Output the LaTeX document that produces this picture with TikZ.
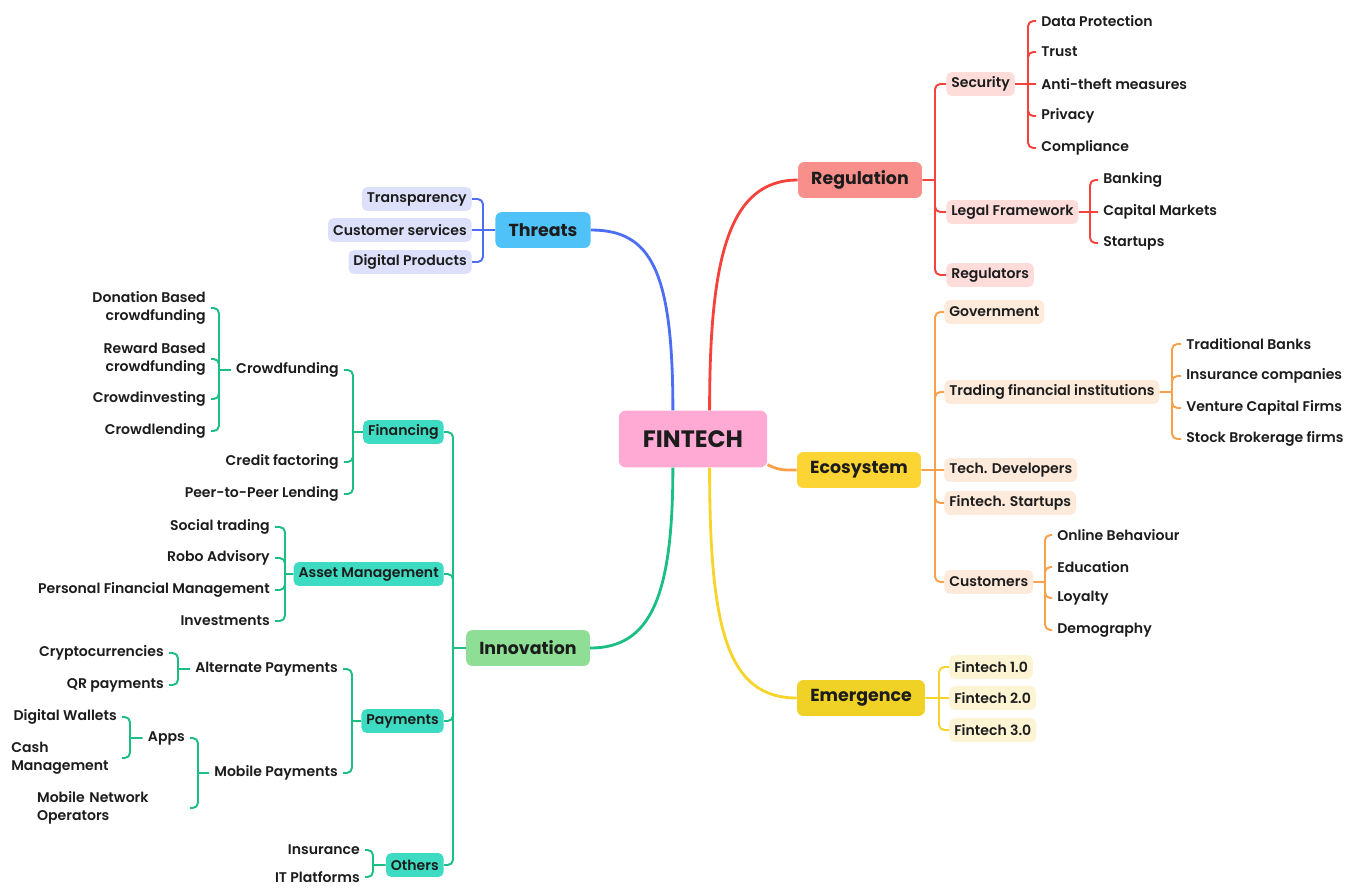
\documentclass[tikz,border=0pt]{standalone}
\usepackage{fontspec}
\setmainfont{Poppins SemiBold}[BoldFont={Poppins Bold}]
\usepackage{tikz}
\usetikzlibrary{positioning,calc}

\definecolor{rootfill}{HTML}{FFAAD4}
\definecolor{regline}{HTML}{F5423B}
\definecolor{regfill}{HTML}{F98F8A}
\definecolor{regsub}{HTML}{FDDCDA}
\definecolor{thrline}{HTML}{4C6EF5}
\definecolor{thrfill}{HTML}{4FC3F7}
\definecolor{thrsub}{HTML}{DCE0FA}
\definecolor{ecoline}{HTML}{F9A04B}
\definecolor{ecofill}{HTML}{FCD434}
\definecolor{ecosub}{HTML}{FDEADB}
\definecolor{emeline}{HTML}{F7D42A}
\definecolor{emefill}{HTML}{F0D126}
\definecolor{emesub}{HTML}{FCF4D3}
\definecolor{innline}{HTML}{1BBF83}
\definecolor{innfill}{HTML}{8EDF95}
\definecolor{innsub}{HTML}{3DDBC1}
\definecolor{txt}{HTML}{1C1C1C}

\begin{document}
\begin{tikzpicture}[
    x=0.02cm, y=-0.02cm,
    root/.style={fill=rootfill, rounded corners=4pt, minimum width=84.5pt, minimum height=32.3pt, text=txt, font=\fontsize{13.5}{16}\selectfont\bfseries},
    topic/.style={rounded corners=3.5pt, minimum height=20.4pt, inner xsep=7.5pt, text=txt, font=\fontsize{9.9}{12}\selectfont\bfseries},
    sub/.style={rounded corners=3pt, minimum height=13.6pt, inner xsep=2.8pt, inner ysep=1pt, text=txt, font=\fontsize{8}{10.2}\selectfont},
    leaf/.style={inner xsep=2.8pt, inner ysep=1pt, text=txt, font=\fontsize{8}{10.2}\selectfont},
    trunk/.style={line width=1.6pt},
    branch/.style={line width=1.1pt, rounded corners=3pt},
]
  \fill[white] (0,0) rectangle (1346,887);
  \useasboundingbox (0,0) rectangle (1346,887);

  \node[root] (fintech) at (693,439) {FINTECH};

  % Regulation
  \node[topic, fill=regfill] (reg) at (860,180) {Regulation};
  \coordinate (regbar) at (935,180);
  \node[sub, fill=regsub, anchor=west] (sec) at (946,84) {Security};
  \node[sub, fill=regsub, anchor=west] (legal) at (946,212) {Legal Framework};
  \node[sub, fill=regsub, anchor=west] (regs) at (946,275) {Regulators};
  \coordinate (secbar) at (1028,84);
  \node[leaf, anchor=west] (sec1) at (1036,21) {Data Protection};
  \node[leaf, anchor=west] (sec2) at (1036,52) {Trust};
  \node[leaf, anchor=west] (sec3) at (1036,84) {Anti-theft measures};
  \node[leaf, anchor=west] (sec4) at (1036,116) {Privacy};
  \node[leaf, anchor=west] (sec5) at (1036,148) {Compliance};
  \coordinate (legbar) at (1090,212);
  \node[leaf, anchor=west] (leg1) at (1098,180) {Banking};
  \node[leaf, anchor=west] (leg2) at (1098,212) {Capital Markets};
  \node[leaf, anchor=west] (leg3) at (1098,243) {Startups};

  % Threats
  \node[topic, fill=thrfill] (thr) at (543,230) {Threats};
  \coordinate (thrbar) at (483,230);
  \node[sub, fill=thrsub, anchor=east] (thr1) at (472,199) {Transparency};
  \node[sub, fill=thrsub, anchor=east] (thr2) at (472,230) {Customer services};
  \node[sub, fill=thrsub, anchor=east] (thr3) at (472,262) {Digital Products};

  % Ecosystem
  \node[topic, fill=ecofill] (eco) at (859,470) {Ecosystem};
  \coordinate (ecobar) at (935,470);
  \node[sub, fill=ecosub, anchor=west] (gov) at (944,312) {Government};
  \node[sub, fill=ecosub, anchor=west] (trad) at (944,392) {Trading financial institutions};
  \node[sub, fill=ecosub, anchor=west] (dev) at (944,470) {Tech. Developers};
  \node[sub, fill=ecosub, anchor=west] (start) at (944,503) {Fintech. Startups};
  \node[sub, fill=ecosub, anchor=west] (cust) at (944,582) {Customers};
  \coordinate (tradbar) at (1172,392);
  \node[leaf, anchor=west] (trad1) at (1181,344) {Traditional Banks};
  \node[leaf, anchor=west] (trad2) at (1181,376) {Insurance companies};
  \node[leaf, anchor=west] (trad3) at (1181,408) {Venture Capital Firms};
  \node[leaf, anchor=west] (trad4) at (1181,439) {Stock Brokerage firms};
  \coordinate (custbar) at (1045,582);
  \node[leaf, anchor=west] (cust1) at (1052,535) {Online Behaviour};
  \node[leaf, anchor=west] (cust2) at (1052,567) {Education};
  \node[leaf, anchor=west] (cust3) at (1052,598) {Loyalty};
  \node[leaf, anchor=west] (cust4) at (1052,630) {Demography};

  % Emergence
  \node[topic, fill=emefill] (eme) at (861,698) {Emergence};
  \coordinate (emebar) at (939,698);
  \node[sub, fill=emesub, anchor=west] (f1) at (949,667) {Fintech 1.0};
  \node[sub, fill=emesub, anchor=west] (f2) at (949,698) {Fintech 2.0};
  \node[sub, fill=emesub, anchor=west] (f3) at (949,730) {Fintech 3.0};

  % Innovation
  \node[topic, fill=innfill] (inn) at (528,648) {Innovation};
  \coordinate (innbar) at (453,648);
  \node[sub, fill=innsub, anchor=east] (fin) at (444,432) {Financing};
  \node[sub, fill=innsub, anchor=east] (asset) at (444,574) {Asset Management};
  \node[sub, fill=innsub, anchor=east] (pay) at (444,721) {Payments};
  \node[sub, fill=innsub, anchor=east] (oth) at (444,865) {Others};

  \coordinate (finbar) at (353,432);
  \node[leaf, anchor=east] (crowd) at (344,370) {Crowdfunding};
  \node[leaf, anchor=east] (fin2) at (344,462) {Credit factoring};
  \node[leaf, anchor=east] (fin3) at (344,494) {Peer-to-Peer Lending};
  \coordinate (crowdbar) at (219,370);
  \node[leaf, anchor=east, align=right] (crowd1) at (211,308) {Donation Based\\crowdfunding};
  \node[leaf, anchor=east, align=right] (crowd2) at (211,359) {Reward Based\\crowdfunding};
  \node[leaf, anchor=east] (crowd3) at (211,399) {Crowdinvesting};
  \node[leaf, anchor=east] (crowd4) at (211,431) {Crowdlending};

  \coordinate (assetbar) at (285,574);
  \node[leaf, anchor=east] (am1) at (275,527) {Social trading};
  \node[leaf, anchor=east] (am2) at (275,558) {Robo Advisory};
  \node[leaf, anchor=east] (am3) at (275,590) {Personal Financial Management};
  \node[leaf, anchor=east] (am4) at (275,621) {Investments};

  \coordinate (paybar) at (352,721);
  \node[leaf, anchor=east] (alt) at (343,669) {Alternate Payments};
  \node[leaf, anchor=east] (mob) at (343,773) {Mobile Payments};
  \coordinate (altbar) at (178,669);
  \node[leaf, anchor=east] (alt1) at (169,653) {Cryptocurrencies};
  \node[leaf, anchor=east] (alt2) at (169,685) {QR payments};
  \coordinate (mobbar) at (198,773);
  \node[leaf, anchor=east] (apps) at (190,738) {Apps};
  \node[leaf, anchor=east, text width=84pt, align=left] (mno) at (190,808) {Mobile Network\\Operators};
  \coordinate (appsbar) at (130,738);
  \node[leaf, anchor=east] (app1) at (122,717) {Digital Wallets};
  \node[leaf, anchor=east, text width=60pt, align=left] (app2) at (122,758) {Cash\\Management};

  \coordinate (othbar) at (373,865);
  \node[leaf, anchor=east] (oth1) at (365,850) {Insurance};
  \node[leaf, anchor=east] (oth2) at (365,877) {IT Platforms};

  % main branches
  \draw[trunk, regline] (fintech.60) .. controls +(0,-150) and +(-70,0) .. (reg.west);
  \draw[trunk, thrline] (fintech.125) .. controls +(0,-140) and +(60,0) .. (thr.east);
  \draw[trunk, ecoline] (fintech.-19) .. controls +(12,6) and +(-12,0) .. (eco.west);
  \draw[trunk, emeline] (fintech.-60) .. controls +(0,160) and +(-70,0) .. (eme.west);
  \draw[trunk, innline] (fintech.-125) .. controls +(0,130) and +(60,0) .. (inn.east);

  % brackets
  \draw[branch, regline] (reg.east) -- (regbar) (regbar) |- (sec.west) (regbar) |- (legal.west) (regbar) |- (regs.west);
  \draw[branch, regline] (sec.east) -- (secbar) (secbar) |- (sec1.west) (secbar) |- (sec2.west) (secbar) -- (sec3.west) (secbar) |- (sec4.west) (secbar) |- (sec5.west);
  \draw[branch, regline] (legal.east) -- (legbar) (legbar) |- (leg1.west) (legbar) -- (leg2.west) (legbar) |- (leg3.west);

  \draw[branch, thrline] (thr.west) -- (thrbar) (thrbar) |- (thr1.east) (thrbar) -- (thr2.east) (thrbar) |- (thr3.east);

  \draw[branch, ecoline] (eco.east) -- (ecobar) (ecobar) |- (gov.west) (ecobar) |- (trad.west) (ecobar) -- (dev.west) (ecobar) |- (start.west) (ecobar) |- (cust.west);
  \draw[branch, ecoline] (trad.east) -- (tradbar) (tradbar) |- (trad1.west) (tradbar) |- (trad2.west) (tradbar) |- (trad3.west) (tradbar) |- (trad4.west);
  \draw[branch, ecoline] (cust.east) -- (custbar) (custbar) |- (cust1.west) (custbar) |- (cust2.west) (custbar) |- (cust3.west) (custbar) |- (cust4.west);

  \draw[branch, emeline] (eme.east) -- (emebar) (emebar) |- (f1.west) (emebar) -- (f2.west) (emebar) |- (f3.west);

  \draw[branch, innline] (inn.west) -- (innbar) (innbar) |- (fin.east) (innbar) |- (asset.east) (innbar) |- (pay.east) (innbar) |- (oth.east);
  \draw[branch, innline] (fin.west) -- (finbar) (finbar) |- (crowd.east) (finbar) |- (fin2.east) (finbar) |- (fin3.east);
  \draw[branch, innline] (crowd.west) -- (crowdbar) (crowdbar) |- (crowd1.east) (crowdbar) |- (crowd2.east) (crowdbar) |- (crowd3.east) (crowdbar) |- (crowd4.east);
  \draw[branch, innline] (asset.west) -- (assetbar) (assetbar) |- (am1.east) (assetbar) |- (am2.east) (assetbar) |- (am3.east) (assetbar) |- (am4.east);
  \draw[branch, innline] (pay.west) -- (paybar) (paybar) |- (alt.east) (paybar) |- (mob.east);
  \draw[branch, innline] (alt.west) -- (altbar) (altbar) |- (alt1.east) (altbar) |- (alt2.east);
  \draw[branch, innline] (mob.west) -- (mobbar) (mobbar) |- (apps.east) (mobbar) |- (mno.east);
  \draw[branch, innline] (apps.west) -- (appsbar) (appsbar) |- (app1.east) (appsbar) |- (app2.east);
  \draw[branch, innline] (oth.west) -- (othbar) (othbar) |- (oth1.east) (othbar) |- (oth2.east);
\end{tikzpicture}
\end{document}
